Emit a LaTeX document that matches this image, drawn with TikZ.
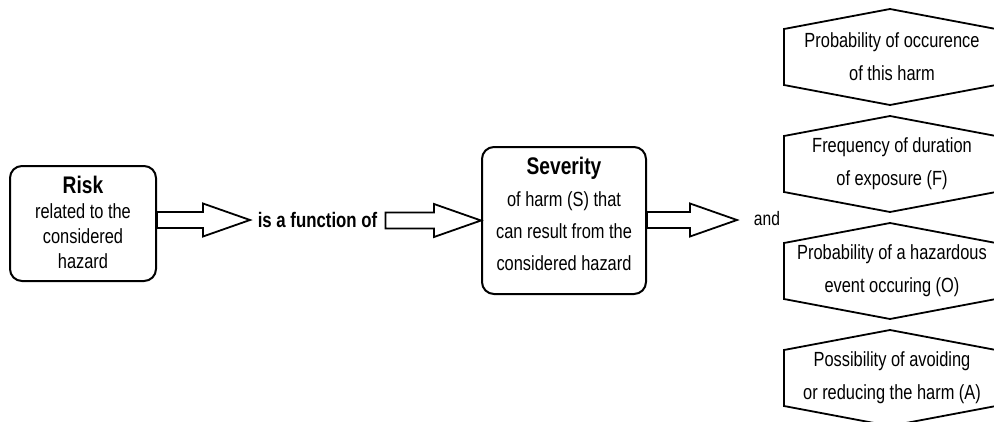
\documentclass[tikz,border=0pt]{standalone}
\usepackage{fontspec}
\setmainfont[FakeStretch=0.8]{Liberation Sans}
\usetikzlibrary{calc}

\newcommand{\blockarrow}[2]{%
    \draw[fatarrow] let \p1=(#1), \p2=(#2) in
        (\x1,\y2+8pt) -- (\x2-47pt,\y2+8pt) -- (\x2-47pt,\y2+16.5pt) -- (\x2,\y2)
        -- (\x2-47pt,\y2-16.5pt) -- (\x2-47pt,\y2-8pt) -- (\x1,\y2-8pt) -- cycle;}

\begin{document}
\begin{tikzpicture}[x=1pt, y=-1pt,
    roundbox/.style={draw, line width=2pt, rounded corners=12pt, align=center, inner sep=0pt},
    fatarrow/.style={line width=1.8pt, line join=miter},
    hexline/.style={line width=1.8pt, line join=miter},
    bodytext/.style={font=\fontsize{20.5}{25}\selectfont}]
    \useasboundingbox (0,0) rectangle (994,421);

    \node[roundbox, bodytext, minimum width=146pt, minimum height=115pt] (risk) at (83,223.5)
        {{\fontsize{24}{25}\selectfont\bfseries Risk}\\related to the\\considered\\hazard\rule[-3pt]{0pt}{3pt}};
    \node[roundbox, minimum width=164pt, minimum height=147pt,
          font=\fontsize{20.5}{32}\selectfont] (sev) at (564,220.5)
        {{\fontsize{24}{32}\selectfont\bfseries Severity}\\of harm (S) that\\can result from the\\considered hazard\rule[-13pt]{0pt}{13pt}};
    \node[inner sep=0pt, font=\fontsize{21}{25}\selectfont\bfseries] (fn) at (317.5,220) {is a function of};
    \node[inner sep=0pt, font=\fontsize{19.5}{25}\selectfont] (and) at (767,218.5) {and};

    \coordinate (tipA) at (250,220);
    \coordinate (startB) at ([xshift=8pt]fn.east);
    \coordinate (tipC) at (737,220);
    \blockarrow{risk.east}{tipA}
    \blockarrow{startB}{sev.west}
    \blockarrow{sev.east}{tipC}

    \foreach \cy/\name/\txt in {57/hexA/{Probability of occurence\\of this harm},
                               164/hexB/{Frequency of duration\\of exposure (F)},
                               271/hexC/{Probability of a hazardous\\event occuring (O)},
                               378/hexD/{Possibility of avoiding\\or reducing the harm (A)}} {
        \draw[hexline] (784,\cy-28) -- (890,\cy-48) -- (996,\cy-28)
            -- (996,\cy+28) -- (890,\cy+48) -- (784,\cy+28) -- cycle;
        \node[align=center, inner sep=0pt, font=\fontsize{20.5}{33}\selectfont] (\name) at (892,\cy) {\txt};
    }
\end{tikzpicture}
\end{document}
